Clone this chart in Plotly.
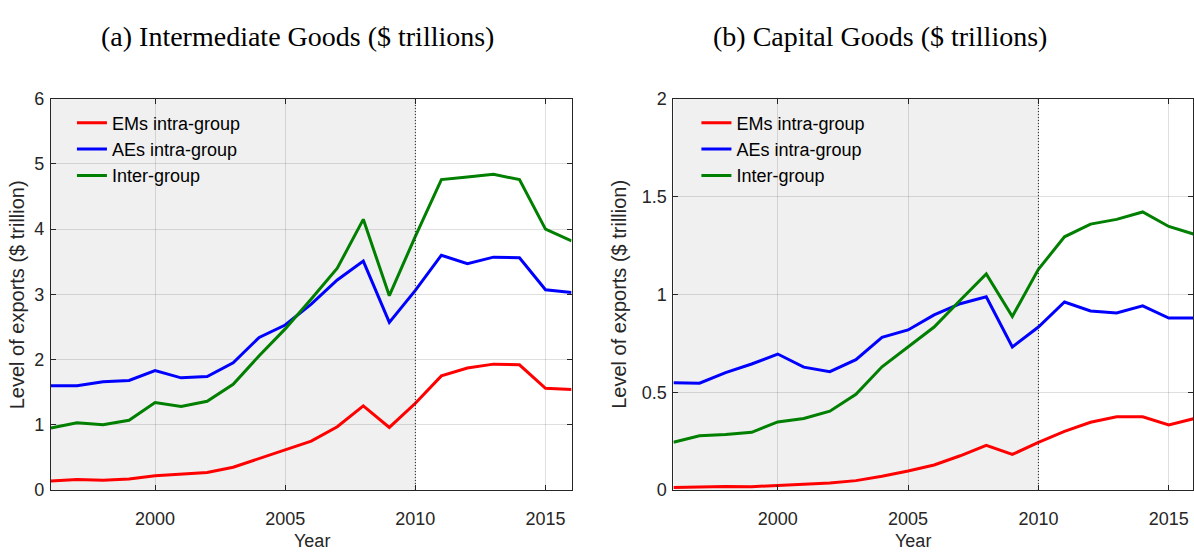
import plotly.graph_objects as go

W, H = 1194, 554

years = list(range(1996, 2017))

# Intermediate goods exports, $ trillion
inter_ems = [0.14, 0.16, 0.15, 0.17, 0.22, 0.24, 0.27, 0.35, 0.48, 0.62, 0.75,
             0.97, 1.29, 0.96, 1.33, 1.75, 1.87, 1.93, 1.92, 1.56, 1.54]
inter_aes = [1.60, 1.60, 1.66, 1.68, 1.83, 1.72, 1.74, 1.95, 2.34, 2.53, 2.85,
             3.22, 3.51, 2.57, 3.06, 3.60, 3.47, 3.57, 3.56, 3.07, 3.03]
inter_grp = [0.95, 1.03, 1.00, 1.07, 1.34, 1.28, 1.36, 1.62, 2.06, 2.47, 2.93,
             3.40, 4.15, 2.98, 3.89, 4.76, 4.80, 4.84, 4.76, 4.00, 3.82]

# Capital goods exports, $ trillion
cap_ems = [0.013, 0.017, 0.018, 0.017, 0.025, 0.030, 0.036, 0.048, 0.070, 0.097, 0.128,
           0.175, 0.228, 0.182, 0.243, 0.300, 0.346, 0.374, 0.374, 0.333, 0.366]
cap_aes = [0.548, 0.546, 0.600, 0.644, 0.695, 0.628, 0.605, 0.666, 0.780, 0.818, 0.895,
           0.952, 0.988, 0.731, 0.833, 0.961, 0.915, 0.905, 0.941, 0.879, 0.879]
cap_grp = [0.244, 0.277, 0.284, 0.295, 0.348, 0.366, 0.403, 0.489, 0.630, 0.731, 0.833,
           0.970, 1.104, 0.887, 1.128, 1.294, 1.359, 1.383, 1.421, 1.347, 1.306]

series_names = ["EMs intra-group", "AEs intra-group", "Inter-group"]
series_colors = ["#ff0000", "#0000ff", "#007f00"]

panel_titles = ["(a) Intermediate Goods ($ trillions)", "(b) Capital Goods ($ trillions)"]
y_label = "Level of exports ($ trillion)"
x_label = "Year"

x_ticks = [2000, 2005, 2010, 2015]
y_ticks_a = [0, 1, 2, 3, 4, 5, 6]
y_ticks_b = [0, 0.5, 1, 1.5, 2]
y_ticktext_b = ["0", "0.5", "1", "1.5", "2"]
shade_start, shade_end = 1996, 2010

SANS = "Liberation Sans, Arial, sans-serif"
SERIF = "Liberation Serif, Times New Roman, serif"
AX = "#262626"
GRID = "rgba(38,38,38,0.15)"


def px(xp):
    return xp / W


def py(yp):
    return 1 - yp / H


fig = go.Figure()

panels = [
    ("x", "y", "legend", [inter_ems, inter_aes, inter_grp]),
    ("x2", "y2", "legend2", [cap_ems, cap_aes, cap_grp]),
]
for xa, ya, lg, data in panels:
    for name, color, vals in zip(series_names, series_colors, data):
        fig.add_trace(go.Scatter(
            x=years, y=vals, name=name, mode="lines",
            line=dict(color=color, width=3),
            xaxis=xa, yaxis=ya, legend=lg, showlegend=True,
        ))

plot_top, plot_bot = 92, 498
dom_y = [py(plot_bot), py(plot_top)]

axis_common = dict(
    showline=True, linecolor=AX, linewidth=1, mirror="ticks",
    ticks="inside", ticklen=5, tickcolor=AX, tickwidth=1,
    showgrid=True, gridcolor=GRID, gridwidth=1, zeroline=False,
    tickfont=dict(family=SANS, size=18, color=AX),
)

legend_common = dict(
    xanchor="left", yanchor="top", bgcolor="rgba(0,0,0,0)", borderwidth=0,
    font=dict(family=SANS, size=18, color="#000000"),
    tracegroupgap=0, itemwidth=30,
)

fig.update_layout(
    width=W, height=H,
    margin=dict(l=0, r=0, t=0, b=0),
    paper_bgcolor="white", plot_bgcolor="white",
    showlegend=True,
    xaxis=dict(domain=[px(51), px(572)], range=[1996, 2016], tickvals=x_ticks,
               anchor="y", ticklabelstandoff=12, **axis_common),
    yaxis=dict(domain=dom_y, range=[0, 6], tickvals=y_ticks_a, anchor="x",
               ticklabelstandoff=2, **axis_common),
    xaxis2=dict(domain=[px(674), 1.0], range=[1996, 2015.93], tickvals=x_ticks,
                anchor="y2", ticklabelstandoff=12, **axis_common),
    yaxis2=dict(domain=dom_y, range=[0, 2], tickvals=y_ticks_b,
                ticktext=y_ticktext_b, anchor="x2", ticklabelstandoff=2,
                **axis_common),
    legend=dict(x=px(72), y=py(98), **legend_common),
    legend2=dict(x=px(697), y=py(98), **legend_common),
)

# shaded pre-2010 window and dotted divider on each panel
for xa, ya in [("x", "y"), ("x2", "y2")]:
    fig.add_shape(type="rect", xref=xa, yref=f"{ya} domain",
                  x0=shade_start, x1=shade_end, y0=0, y1=1,
                  fillcolor="#f0f0f0", line=dict(width=0), layer="below")
    fig.add_shape(type="line", xref=xa, yref=f"{ya} domain",
                  x0=shade_end, x1=shade_end, y0=0, y1=1,
                  line=dict(color="#202020", width=1, dash="1px,2px"), layer="above")

annotations = [
    dict(text=panel_titles[0], x=px(298), y=py(28),
         font=dict(family=SERIF, size=28, color="#000000")),
    dict(text=panel_titles[1], x=px(881), y=py(28),
         font=dict(family=SERIF, size=28, color="#000000")),
    dict(text=x_label, x=px(312), y=py(551),
         font=dict(family=SANS, size=18, color=AX)),
    dict(text=x_label, x=px(914), y=py(551),
         font=dict(family=SANS, size=18, color=AX)),
    dict(text=y_label, x=px(17), y=py(295), textangle=-90,
         font=dict(family=SANS, size=20, color=AX)),
    dict(text=y_label, x=px(620), y=py(295), textangle=-90,
         font=dict(family=SANS, size=20, color=AX)),
]
for a in annotations:
    fig.add_annotation(xref="paper", yref="paper", showarrow=False,
                       xanchor="center", yanchor="middle", borderpad=0, **a)

fig.write_html("out.html")
